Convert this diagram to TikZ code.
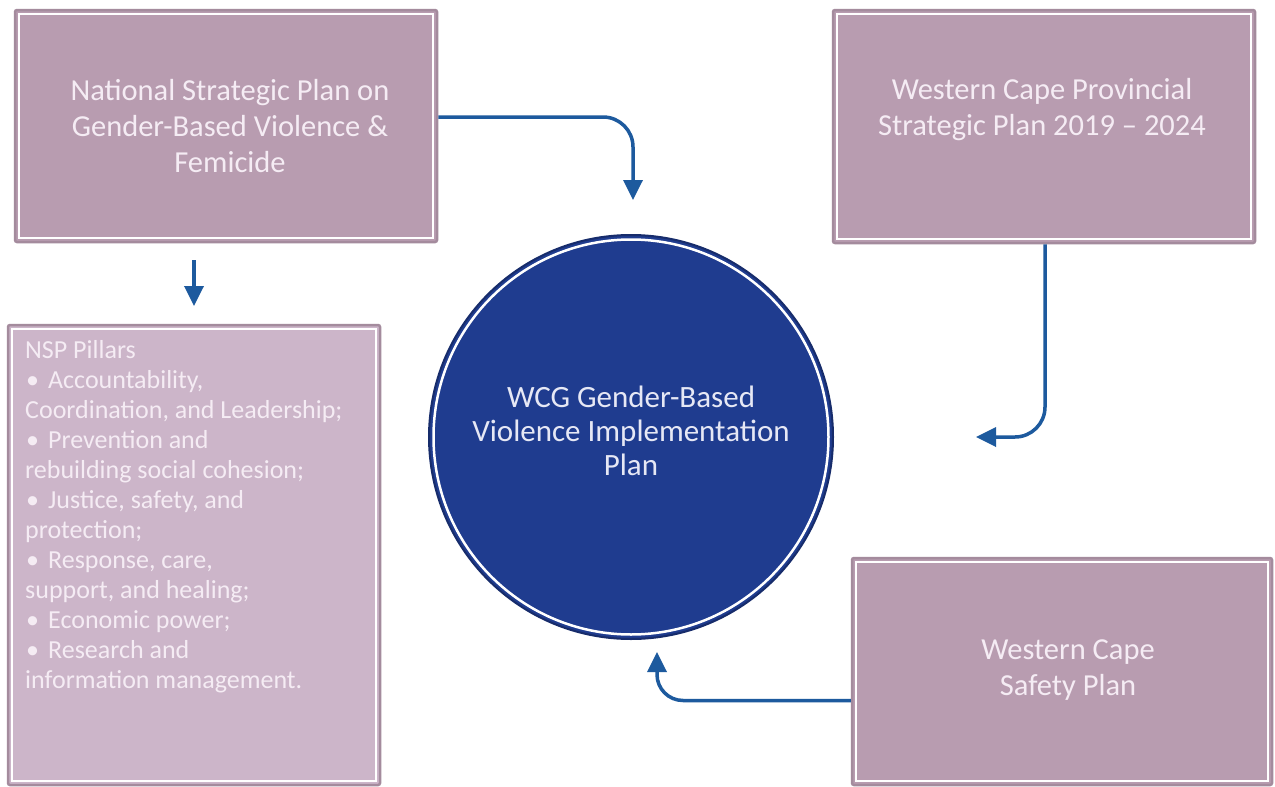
\documentclass[tikz,border=0pt]{standalone}
\usepackage{fontspec}
\setmainfont{Carlito}
\usetikzlibrary{arrows.meta}
\definecolor{boxfill}{HTML}{B89CB0}
\definecolor{boxedge}{HTML}{A48B9D}
\definecolor{listfill}{HTML}{CCB5C9}
\definecolor{boxtext}{HTML}{F5ECF4}
\definecolor{navyfill}{HTML}{1F3C8F}
\definecolor{navyedge}{HTML}{172C6B}
\definecolor{circtext}{HTML}{E6E8F5}
\definecolor{arrowblue}{HTML}{1D5A9E}
\begin{document}
\begin{tikzpicture}[x=1pt,y=-1pt,
  pbox/.style={draw=boxedge, line width=2.5pt, fill=#1, rounded corners=2pt, inner sep=0pt},
  innerline/.style={draw=white, line width=1.6pt},
  btext/.style={text=boxtext, align=center, font=\fontsize{30.5}{36}\selectfont, inner sep=0pt},
  ltext/.style={text=boxtext, align=left, font=\fontsize{26}{30}\selectfont, inner sep=0pt},
  conn/.style={draw=arrowblue, line width=3.5pt, -{Triangle[width=19pt,length=20pt]}}
]
\useasboundingbox[fill=white] (0,0) rectangle (1275,787);

% top-left box
\node[pbox=boxfill, minimum width=422pt, minimum height=232pt] (nsp) at (226,126) {};
\draw[innerline] ([shift={(5pt,-5pt)}]nsp.north west) rectangle ([shift={(-5pt,5pt)}]nsp.south east);
\node[btext] (nspt) at (230,126) {National Strategic Plan on\\Gender-Based Violence \&\\Femicide};

% top-right box
\node[pbox=boxfill, minimum width=422pt, minimum height=233pt] (wcp) at (1044,126.5) {};
\draw[innerline] ([shift={(5pt,-5pt)}]wcp.north west) rectangle ([shift={(-5pt,5pt)}]wcp.south east);
\node[btext] (wcpt) at (1042,110) {Western Cape Provincial\\Strategic Plan 2019 – 2024};

% bottom-right box
\node[pbox=boxfill, minimum width=420pt, minimum height=227pt] (wcs) at (1062,671.5) {};
\draw[innerline] ([shift={(5pt,-5pt)}]wcs.north west) rectangle ([shift={(-5pt,5pt)}]wcs.south east);
\node[btext] (wcst) at (1068,670) {Western Cape\\Safety Plan};

% list box
\node[pbox=listfill, minimum width=372pt, minimum height=460pt] (pil) at (194,555) {};
\draw[innerline] ([shift={(5pt,-5pt)}]pil.north west) rectangle ([shift={(-5pt,5pt)}]pil.south east);
\node[ltext, anchor=north west] (pilt) at (25,340) {NSP Pillars\\
\makebox[23pt][l]{\hspace{1pt}•}Accountability,\\
Coordination, and Leadership;\\
\makebox[23pt][l]{\hspace{1pt}•}Prevention and\\
rebuilding social cohesion;\\
\makebox[23pt][l]{\hspace{1pt}•}Justice, safety, and\\
protection;\\
\makebox[23pt][l]{\hspace{1pt}•}Response, care,\\
support, and healing;\\
\makebox[23pt][l]{\hspace{1pt}•}Economic power;\\
\makebox[23pt][l]{\hspace{1pt}•}Research and\\
information management.};

% circle
\node[circle, draw=navyedge, line width=2pt, fill=navyfill, minimum size=404pt, inner sep=0pt] (wcg) at (631,437) {};
\draw[draw=white, line width=2.5pt] (wcg.center) circle (197.5pt);
\node[text=circtext, align=center, font=\fontsize{31}{34}\selectfont, inner sep=0pt] (wcgt) at (631,431) {WCG Gender-Based\\Violence Implementation\\Plan};

% connector end points
\coordinate (e1) at (633,200);
\coordinate (s2) at (194,260);
\coordinate (e2) at (194,306);
\coordinate (e3) at (976,437);
\coordinate (e4) at (657,652);

% connectors
\draw[conn, rounded corners=30pt] ([yshift=9pt]nsp.east) -| (e1);
\draw[conn] (s2) -- (e2);
\draw[conn, rounded corners=30pt] ([xshift=1pt]wcp.south) |- (e3);
\draw[conn, rounded corners=26pt] ([yshift=-29pt]wcs.west) -| (e4);
\end{tikzpicture}
\end{document}
